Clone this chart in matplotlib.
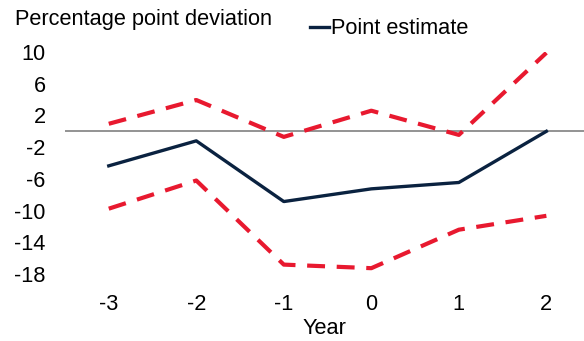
import matplotlib.pyplot as plt
from matplotlib.lines import Line2D

plt.rcParams['font.family'] = ['Liberation Sans', 'DejaVu Sans']

years = [-3, -2, -1, 0, 1, 2]
point_estimate = [-4.35, -1.2, -8.85, -7.25, -6.45, 0.0]
upper_band = [0.95, 3.95, -0.7, 2.6, -0.45, 9.9]
lower_band = [-9.75, -6.2, -16.8, -17.25, -12.4, -10.65]
y_ticks = [10, 6, 2, -2, -6, -10, -14, -18]

NAVY = '#0a2240'
RED = '#e8192f'
FS = 15.7

fig = plt.figure(figsize=(5.84, 3.41), dpi=100)
ax = fig.add_axes([65 / 584, 51 / 341, 1 - 65 / 584, 238 / 341])

ax.axhline(0, color='#808080', lw=1.2, zorder=1)
ax.plot(years, upper_band, color=RED, lw=3, dashes=(4.3, 2.8), zorder=2)
ax.plot(years, lower_band, color=RED, lw=3, dashes=(4.3, 2.8), zorder=2)
ax.plot(years, point_estimate, color=NAVY, lw=2.4, zorder=3)

ax.set_xlim(-3.5, 2.43)
ax.set_ylim(-20, 10)
ax.set_xticks(years)
ax.set_xticklabels([str(y) for y in years])
ax.set_yticks(y_ticks)
ax.set_yticklabels([str(t) for t in y_ticks])
ax.tick_params(length=0, labelsize=FS, colors='black')
ax.tick_params(axis='y', pad=14)
ax.tick_params(axis='x', pad=3)
for s in ax.spines.values():
    s.set_visible(False)
ax.set_xlabel('Year', fontsize=FS, labelpad=2)

fig.text(15 / 584, 1 - 20 / 341, 'Percentage point deviation', fontsize=FS, va='center', ha='left')

handle = Line2D([], [], color=NAVY, lw=2.4)
fig.legend([handle], ['Point estimate'], loc='center left', bbox_to_anchor=(310 / 584, 1 - 29 / 341),
           frameon=False, fontsize=FS, handlelength=0.85, handletextpad=0.1, borderpad=0, borderaxespad=0)

fig.savefig('out.png', dpi=100)
